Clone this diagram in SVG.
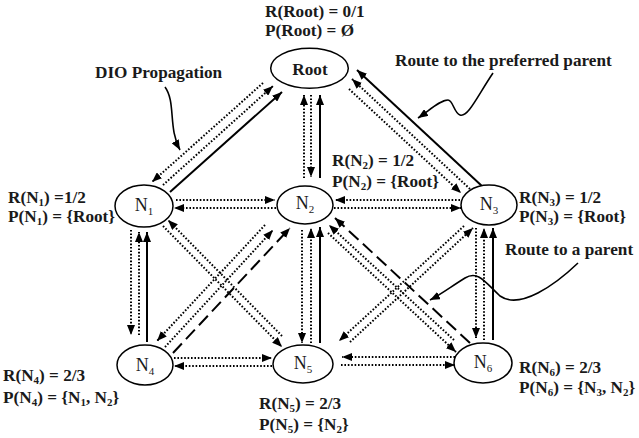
<svg xmlns="http://www.w3.org/2000/svg" width="639" height="438" viewBox="0 0 639 438">
<defs>
<marker id="ah" markerUnits="userSpaceOnUse" markerWidth="10" markerHeight="8" refX="10" refY="4" orient="auto">
<path d="M0,0 L10,4 L0,8 z" fill="#000"/>
</marker>
<style>
.s{stroke:#000;stroke-width:2;fill:none;marker-end:url(#ah)}
.d{stroke:#000;stroke-width:2;fill:none;stroke-dasharray:1.6 1.8;marker-end:url(#ah)}
.ds{stroke:#000;stroke-width:2;fill:none;stroke-dasharray:13 6;marker-end:url(#ah)}
.c{stroke:#000;stroke-width:1.6;fill:none;marker-end:url(#ah)}
ellipse{fill:#fff;stroke:#000;stroke-width:1.5}
text{font-family:"Liberation Serif","Times New Roman",serif;font-weight:bold;font-size:17.2px;fill:#1a1a1a}
.nl{font-weight:normal;font-size:18px;text-anchor:middle}
.sb{font-size:11px}
</style>
</defs>
<g id="connectors">
<path class="s" d="M170,192 L282,92"/>
<path class="d" d="M163,185 L273,86"/>
<path class="d" d="M263,83 L152,182"/>
<path class="d" d="M304,178 L304,95"/>
<path class="d" d="M311,95 L311,177"/>
<path class="s" d="M320,178 L320,95"/>
<path class="s" d="M483,187 L357,70"/>
<path class="d" d="M470,189 L352,79"/>
<path class="d" d="M349,89 L461,193"/>
<path class="d" d="M176,200 L275,200"/>
<path class="d" d="M276,208 L174,208"/>
<path class="d" d="M460,200 L335,200"/>
<path class="d" d="M334,208 L461,208"/>
<path class="d" d="M131,230 L131,335"/>
<path class="d" d="M139,335 L139,232"/>
<path class="s" d="M147,342 L147,232"/>
<path class="d" d="M163,226 L282,347"/>
<path class="d" d="M282,336 L168,220"/>
<path class="d" d="M265,225 L157,341"/>
<path class="d" d="M165,347 L273,230"/>
<path class="ds" d="M173,353 L290,228"/>
<path class="d" d="M302,230 L302,343"/>
<path class="d" d="M311,343 L311,228"/>
<path class="s" d="M320,343 L320,227"/>
<path class="ds" d="M470,343 L335,218"/>
<path class="d" d="M454,340 L329,225"/>
<path class="d" d="M328,233 L456,352"/>
<path class="d" d="M464,226 L339,341"/>
<path class="d" d="M350,342 L473,228"/>
<path class="d" d="M476,228 L476,338"/>
<path class="d" d="M484,340 L484,228"/>
<path class="s" d="M493,340 L493,228"/>
<path class="d" d="M174,358 L272,358"/>
<path class="d" d="M272,366 L174,366"/>
<path class="d" d="M455,357 L342,357"/>
<path class="d" d="M341,365 L455,365"/>
</g>
<g id="annotations">
<text x="95" y="78">DIO Propagation</text>
<path class="c" d="M165,87 C176,102 168,128 180,150"/>
<text x="395" y="66">Route to the preferred parent</text>
<path class="c" d="M493,73 C478,95 468,118 460,115 C454,113 453,100 448,100 C440,100 430,110 418,118"/>
<text x="505" y="255">Route to a parent</text>
<path class="c" d="M578,263 C555,285 520,310 500,296 C485,282 478,270 465,278 C452,286 440,295 430,300"/>
</g>
<g id="root">
<ellipse cx="309.5" cy="68.3" rx="38.8" ry="20"/>
<text x="310" y="75" text-anchor="middle" font-size="18">Root</text>
<text x="265" y="16.5">R(Root) = 0/1</text>
<text x="265" y="36">P(Root) = Ø</text>
</g>
<g id="n1">
<ellipse cx="144" cy="206" rx="29" ry="21"/>
<text class="nl" x="144" y="211">N<tspan class="sb" dy="4">1</tspan></text>
<text x="8" y="202.5">R(N<tspan class="sb" dy="3">1</tspan><tspan dy="-3">) =1/2</tspan></text>
<text x="8" y="221.5">P(N<tspan class="sb" dy="3">1</tspan><tspan dy="-3">) = {Root}</tspan></text>
</g>
<g id="n2">
<ellipse cx="305" cy="205" rx="28" ry="19"/>
<text class="nl" x="305" y="209">N<tspan class="sb" dy="4">2</tspan></text>
<text x="332" y="166">R(N<tspan class="sb" dy="3">2</tspan><tspan dy="-3">) = 1/2</tspan></text>
<text x="332" y="186.5">P(N<tspan class="sb" dy="3">2</tspan><tspan dy="-3">) = {Root}</tspan></text>
</g>
<g id="n3">
<ellipse cx="489" cy="205" rx="28" ry="20"/>
<text class="nl" x="489" y="210">N<tspan class="sb" dy="4">3</tspan></text>
<text x="519" y="202.5">R(N<tspan class="sb" dy="3">3</tspan><tspan dy="-3">) = 1/2</tspan></text>
<text x="519" y="221.5">P(N<tspan class="sb" dy="3">3</tspan><tspan dy="-3">) = {Root}</tspan></text>
</g>
<g id="n4">
<ellipse cx="145" cy="365" rx="28" ry="20"/>
<text class="nl" x="145" y="371">N<tspan class="sb" dy="4">4</tspan></text>
<text x="3" y="381">R(N<tspan class="sb" dy="3">4</tspan><tspan dy="-3">) = 2/3</tspan></text>
<text x="3" y="403">P(N<tspan class="sb" dy="3">4</tspan><tspan dy="-3">) = {N</tspan><tspan class="sb" dy="3">1</tspan><tspan dy="-3">, N</tspan><tspan class="sb" dy="3">2</tspan><tspan dy="-3">}</tspan></text>
</g>
<g id="n5">
<ellipse cx="303" cy="364" rx="30" ry="19"/>
<text class="nl" x="303" y="369">N<tspan class="sb" dy="4">5</tspan></text>
<text x="259" y="408.5">R(N<tspan class="sb" dy="3">5</tspan><tspan dy="-3">) = 2/3</tspan></text>
<text x="259" y="430">P(N<tspan class="sb" dy="3">5</tspan><tspan dy="-3">) = {N</tspan><tspan class="sb" dy="3">2</tspan><tspan dy="-3">}</tspan></text>
</g>
<g id="n6">
<ellipse cx="483" cy="363" rx="29" ry="20"/>
<text class="nl" x="483" y="368">N<tspan class="sb" dy="4">6</tspan></text>
<text x="519" y="372.5">R(N<tspan class="sb" dy="3">6</tspan><tspan dy="-3">) = 2/3</tspan></text>
<text x="519" y="393">P(N<tspan class="sb" dy="3">6</tspan><tspan dy="-3">) = {N</tspan><tspan class="sb" dy="3">3</tspan><tspan dy="-3">, N</tspan><tspan class="sb" dy="3">2</tspan><tspan dy="-3">}</tspan></text>
</g>
</svg>
